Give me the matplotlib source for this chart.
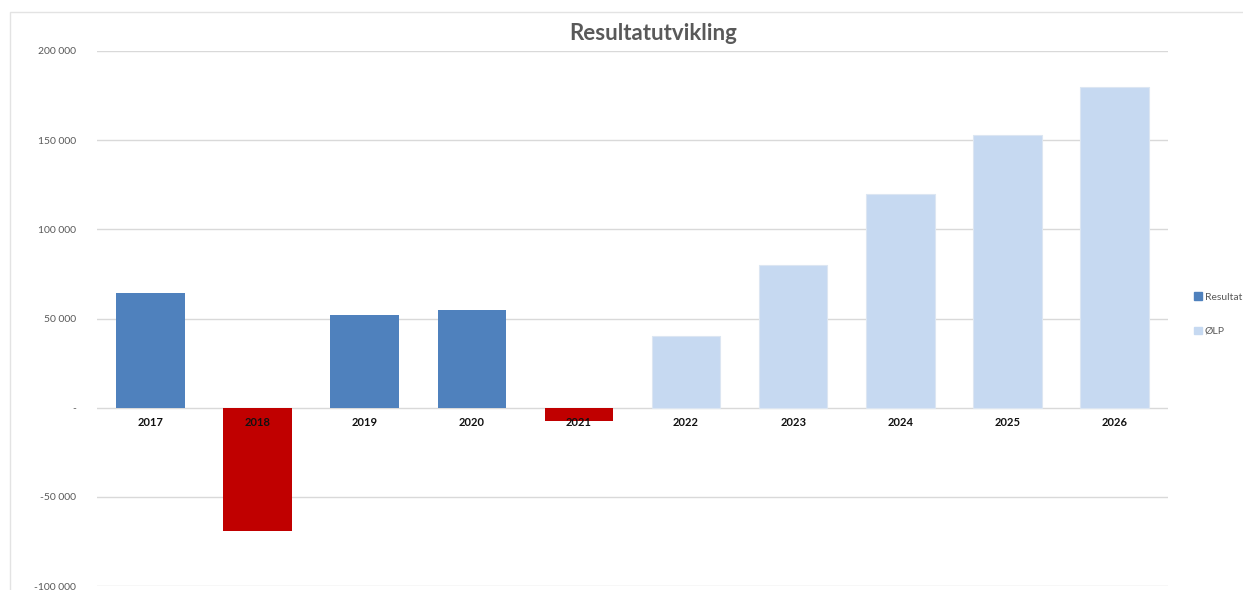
import matplotlib.pyplot as plt
from matplotlib.patches import Patch, Rectangle
from matplotlib.ticker import FuncFormatter

years = ["2017", "2018", "2019", "2020", "2021", "2022", "2023", "2024", "2025", "2026"]
resultat = [64500, -69000, 52000, 55000, -7300, None, None, None, None, None]
olp = [None, None, None, None, None, 40000, 80000, 120000, 153000, 180000]
y_ticks = [-100000, -50000, 0, 50000, 100000, 150000, 200000]

blue = "#4F81BD"
red = "#C00000"
light = "#C6D9F1"

plt.rcParams['font.family'] = ['Lato', 'DejaVu Sans']

fig = plt.figure(figsize=(12.43, 5.90), dpi=100)
# outer chart frame like the Excel chart area
fig.patches.append(Rectangle((10 / 1243, -0.05), 1.2, 1 - 12 / 590 + 0.05, transform=fig.transFigure,
                             fill=False, edgecolor="#E3E3E3", linewidth=1))
ax = fig.add_axes([97 / 1243, 1 - 586 / 590, 1071 / 1243, 535 / 590])

for i, v in enumerate(resultat):
    if v is not None:
        ax.bar(i, v, width=0.64, color=red if v < 0 else blue, zorder=2)
for i, v in enumerate(olp):
    if v is not None:
        ax.bar(i, v, width=0.64, color=light, edgecolor="#DCE6F2", linewidth=0.8, zorder=2)

for i, y in enumerate(years):
    ax.annotate(y, (i, 0), xytext=(0, -11), textcoords="offset points", ha="center", va="center",
                fontsize=8, fontweight="bold", color="#111111", zorder=5)

ax.set_xlim(-0.5, len(years) - 0.5)
ax.set_ylim(-100000, 200000)
ax.set_yticks(y_ticks)
ax.yaxis.set_major_formatter(FuncFormatter(lambda v, p: "-" if v == 0 else f"{int(v):,}".replace(",", " ")))
ax.tick_params(axis="y", length=0, pad=15, labelsize=7.5, labelcolor="#595959")
ax.set_xticks([])
ax.grid(axis="y", color="#D9D9D9", linewidth=1)
ax.set_axisbelow(True)
for s in ax.spines.values():
    s.set_visible(False)

fig.text(0.5255, 1 - 34 / 590, "Resultatutvikling", ha="center", va="center",
         fontsize=16, fontweight="bold", color="#595959")

handles = [Patch(color=blue, label="Resultat"), Patch(color=light, label="ØLP")]
fig.legend(handles=handles, loc="center left", bbox_to_anchor=(1185 / 1243, 1 - 314 / 590),
           frameon=False, fontsize=7.5, handlelength=0.7, handleheight=0.7, handletextpad=0.3,
           labelspacing=2.4, labelcolor="#595959")

fig.savefig("out.png", dpi=100)
